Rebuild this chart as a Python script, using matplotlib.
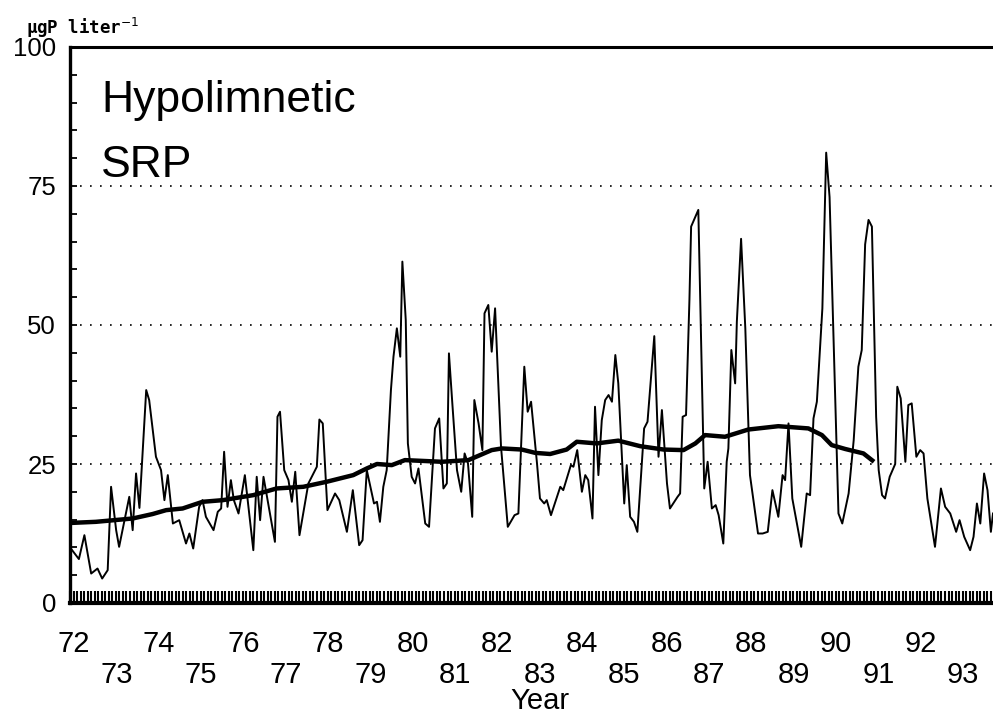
import matplotlib.pyplot as plt
import numpy as np

# monthly hypolimnetic SRP (ugP/l), decimal year vs concentration
srp_year = [
    72.02, 72.21, 72.34, 72.50, 72.65, 72.76, 72.89, 72.97, 73.09, 73.16,
    73.40, 73.48, 73.56, 73.64, 73.80, 73.87, 74.03, 74.15, 74.23, 74.31,
    74.43, 74.58, 74.74, 74.82, 74.91, 75.05, 75.13, 75.21, 75.39, 75.49,
    75.57, 75.64, 75.72, 75.80, 75.87, 75.98, 76.13, 76.33, 76.41, 76.49,
    76.57, 76.84, 76.90, 76.96, 77.06, 77.16, 77.24, 77.32, 77.42, 77.63,
    77.83, 77.89, 77.97, 78.08, 78.26, 78.36, 78.54, 78.68, 78.83, 78.91,
    79.01, 79.18, 79.25, 79.32, 79.40, 79.48, 79.58, 79.64, 79.72, 79.80,
    79.85, 79.93, 79.98, 80.07, 80.15, 80.23, 80.39, 80.48, 80.62, 80.72,
    80.82, 80.90, 80.95, 81.03, 81.14, 81.24, 81.32, 81.40, 81.50, 81.55,
    81.65, 81.74, 81.79, 81.88, 81.96, 82.04, 82.18, 82.34, 82.50, 82.59,
    82.73, 82.81, 82.89, 83.03, 83.10, 83.20, 83.26, 83.36, 83.58, 83.65,
    83.83, 83.89, 83.98, 84.09, 84.17, 84.24, 84.34, 84.40, 84.48, 84.56,
    84.64, 84.72, 84.80, 84.88, 84.95, 85.09, 85.15, 85.23, 85.32, 85.40,
    85.56, 85.64, 85.80, 85.90, 85.98, 86.10, 86.17, 86.35, 86.41, 86.47,
    86.55, 86.63, 86.67, 86.84, 86.98, 87.06, 87.16, 87.25, 87.32, 87.43,
    87.51, 87.55, 87.62, 87.71, 87.75, 87.85, 87.95, 88.06, 88.25, 88.36,
    88.48, 88.59, 88.73, 88.83, 88.89, 88.97, 89.06, 89.27, 89.40, 89.48,
    89.56, 89.64, 89.77, 89.86, 89.94, 90.15, 90.24, 90.39, 90.51, 90.62,
    90.70, 90.78, 90.86, 90.94, 91.04, 91.10, 91.18, 91.25, 91.36, 91.49,
    91.54, 91.62, 91.73, 91.80, 91.88, 91.99, 92.08, 92.16, 92.25, 92.43,
    92.57, 92.67, 92.79, 92.93, 93.01, 93.12, 93.26, 93.34, 93.42, 93.50,
    93.59, 93.67, 93.75, 93.80,
]
srp = [
    9.8, 7.9, 12.2, 5.3, 6.2, 4.4, 5.9, 20.9, 13.1, 10.1,
    19.1, 13.1, 23.3, 17.1, 38.3, 36.5, 26.3, 23.9, 18.5, 23.0,
    14.3, 14.9, 10.7, 12.5, 9.8, 17.3, 18.5, 15.5, 13.1, 16.4,
    17.0, 27.2, 17.3, 22.1, 18.5, 16.1, 23.0, 9.5, 22.7, 14.9,
    22.7, 11.0, 33.5, 34.4, 23.9, 22.1, 18.2, 23.6, 12.2, 21.5,
    24.5, 33.0, 32.3, 16.7, 19.7, 18.5, 12.8, 20.3, 10.4, 11.3,
    23.9, 17.9, 18.2, 14.6, 20.9, 23.9, 38.3, 44.3, 49.4, 44.3,
    61.4, 50.9, 28.7, 22.7, 21.5, 24.2, 14.3, 13.7, 31.4, 33.2,
    20.6, 21.5, 44.9, 35.9, 23.9, 20.0, 26.9, 25.1, 15.5, 36.5,
    32.3, 27.5, 52.1, 53.6, 45.2, 53.0, 28.1, 13.7, 15.8, 16.1,
    42.5, 34.4, 36.2, 25.1, 18.8, 17.9, 18.5, 15.8, 20.9, 20.3,
    24.8, 24.5, 27.5, 20.0, 23.0, 22.1, 15.2, 35.3, 23.0, 32.9,
    36.5, 37.4, 36.2, 44.6, 39.5, 17.9, 24.8, 15.5, 14.6, 12.8,
    31.4, 32.6, 48.0, 26.3, 34.7, 21.5, 17.0, 19.1, 19.7, 33.5,
    33.8, 54.5, 67.7, 70.7, 20.6, 25.4, 17.0, 17.6, 15.8, 10.7,
    25.4, 27.8, 45.5, 39.5, 50.6, 65.5, 49.4, 23.0, 12.5, 12.5,
    12.8, 20.3, 15.5, 23.0, 22.1, 32.3, 18.8, 10.1, 19.7, 19.4,
    33.2, 36.2, 53.0, 81.0, 73.0, 16.1, 14.3, 19.7, 29.3, 42.5,
    45.5, 64.5, 68.9, 67.7, 33.5, 23.9, 19.4, 18.8, 22.7, 25.0,
    38.9, 36.8, 25.4, 35.6, 35.9, 26.3, 27.5, 26.9, 18.8, 10.1,
    20.6, 17.3, 16.1, 12.8, 14.9, 11.9, 9.5, 11.9, 17.9, 14.3,
    23.3, 20.3, 12.8, 16.1,
]

# smoothed trend
trend_year = [
    72.02, 72.61, 73.48, 73.95, 74.27, 74.66, 75.13, 75.61, 76.33, 76.88,
    77.51, 78.06, 78.69, 79.01, 79.25, 79.60, 79.91, 80.78, 81.41, 81.96,
    82.20, 82.67, 82.99, 83.34, 83.73, 83.97, 84.44, 84.95, 85.47, 86.02,
    86.49, 86.77, 87.00, 87.47, 88.02, 88.73, 89.44, 89.76, 89.99, 90.31,
    90.74, 90.99,
]
trend = [
    14.4, 14.6, 15.2, 16.0, 16.7, 17.0, 18.2, 18.5, 19.4, 20.6,
    20.9, 21.8, 23.0, 24.2, 25.0, 24.8, 25.7, 25.4, 25.7, 27.5,
    27.8, 27.6, 27.0, 26.8, 27.6, 29.0, 28.7, 29.2, 28.2, 27.6,
    27.5, 28.7, 30.2, 29.9, 31.2, 31.8, 31.4, 30.2, 28.4, 27.7,
    26.9, 25.4,
]

years = list(range(72, 94))
year_labels = [str(y) for y in years]
y_ticks = [0, 25, 50, 75, 100]

plt.rcParams['font.family'] = ['Liberation Sans', 'DejaVu Sans']

fig = plt.figure(figsize=(9.93, 7.15), dpi=100)
ax = fig.add_axes([70 / 993, 112 / 715, 923 / 993, 556 / 715])

ax.plot(srp_year, srp, color='black', lw=1.4)
ax.plot(trend_year, trend, color='black', lw=3.2, solid_capstyle='butt')

ax.set_xlim(72.0, 93.8)
ax.set_ylim(0, 100)

for g in [25, 50, 75]:
    ax.axhline(g, color='black', lw=1.2, ls=(0, (1, 5)), zorder=0)

# y axis: labelled every 25, small inward ticks every 5
ax.set_yticks(y_ticks)
ax.set_yticks(np.arange(0, 101, 5), minor=True)
ax.tick_params(axis='y', which='both', direction='in', length=5, width=1.3,
               labelsize=18.5, pad=10)

# x axis: dense monthly tick band, year labels in two staggered rows
months = np.arange(72 * 12, 93.8 * 12) / 12
ax.set_xticks(months, minor=True)
ax.set_xticks([])
ax.tick_params(axis='x', which='minor', direction='in', length=8.5, width=1.5)

tr = ax.get_xaxis_transform()
for y, lab in zip(years, year_labels):
    row = -0.0876 if y % 2 == 0 else -0.1444
    ax.text(y + 0.095, row, lab, transform=tr, ha='center', va='baseline',
            fontsize=21)

fig.text(540 / 993, 6 / 715, 'Year', ha='center', va='baseline', fontsize=21)

ax.spines['right'].set_visible(False)
ax.spines['left'].set_linewidth(2.4)
ax.spines['top'].set_linewidth(2.2)
ax.spines['bottom'].set_linewidth(3.0)

ax.text(0.0336, 0.8831, 'Hypolimnetic', transform=ax.transAxes,
        fontsize=32, va='baseline')
ax.text(0.0336, 0.7662, 'SRP', transform=ax.transAxes,
        fontsize=32, va='baseline')

fig.text(26 / 993, 1 - 34 / 715, 'μgP liter$^{-1}$', family='DejaVu Sans Mono',
         fontweight='bold', fontsize=12.5, va='baseline')

fig.savefig('out.png', dpi=100)
